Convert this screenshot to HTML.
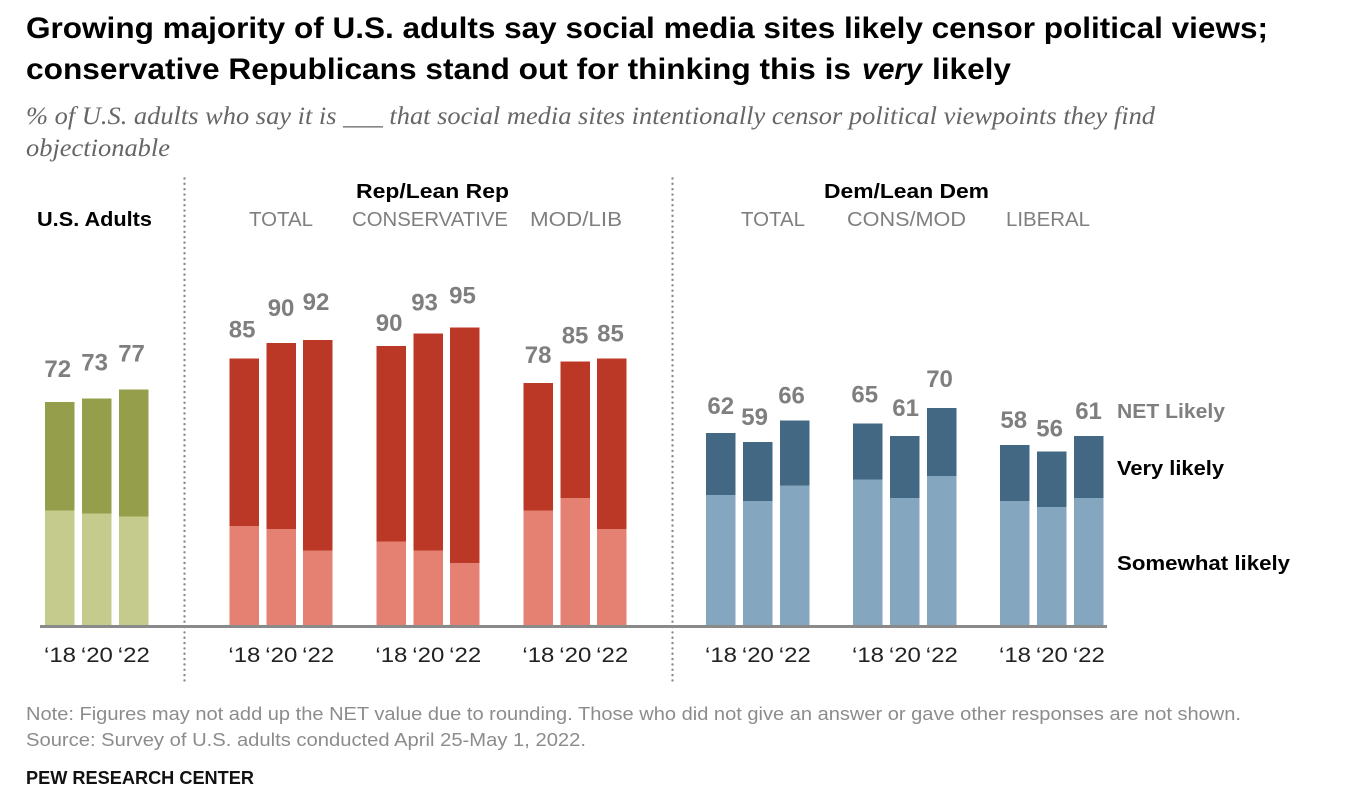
<!DOCTYPE html>
<html lang="en">
<head>
<meta charset="utf-8">
<title>Social media censorship views</title>
<style>
html,body{margin:0;padding:0;background:#fff;width:1358px;height:810px;overflow:hidden}
svg{display:block;font-family:"Liberation Sans",Arial,sans-serif}
.title{font-weight:700;font-size:30px;fill:#000}
.sub{font-family:"Liberation Serif",serif;font-style:italic;font-size:25px;fill:#666}
.head{font-weight:700;font-size:20px;fill:#000}
.subhead{font-size:20px;fill:#7f7f7f}
.legend{font-weight:700;font-size:20px;fill:#000}
.note{font-size:18px;fill:#8c8c8c}
.val{font-weight:700;font-size:24px;fill:#7f7f7f;text-anchor:middle}
.year{font-size:21px;fill:#222}
</style>
</head>
<body>
<svg id="chart" width="1358" height="810" viewBox="0 0 1358 810" xmlns="http://www.w3.org/2000/svg">
  <rect width="1358" height="810" fill="#fff"/>
  <g>
    <text class="title" x="26" y="38" textLength="1242" lengthAdjust="spacingAndGlyphs">Growing majority of U.S. adults say social media sites likely censor political views;</text>
    <text class="title" x="26" y="79" textLength="825" lengthAdjust="spacingAndGlyphs">conservative Republicans stand out for thinking this is</text>
    <text class="title" x="862" y="79" font-style="italic" textLength="60" lengthAdjust="spacingAndGlyphs">very</text>
    <text class="title" x="932" y="79" textLength="79" lengthAdjust="spacingAndGlyphs">likely</text>
  </g>
  <g>
    <text class="sub" x="26" y="124" textLength="1129" lengthAdjust="spacingAndGlyphs">% of U.S. adults who say it is ___ that social media sites intentionally censor political viewpoints they find</text>
    <text class="sub" x="26" y="156" textLength="144" lengthAdjust="spacingAndGlyphs">objectionable</text>
  </g>
  <line x1="184.5" y1="178.5" x2="184.5" y2="681" stroke="#888" stroke-width="2.4" stroke-linecap="round" stroke-dasharray="0.01 5.33"/>
  <line x1="672.5" y1="178.5" x2="672.5" y2="681" stroke="#888" stroke-width="2.4" stroke-linecap="round" stroke-dasharray="0.01 5.33"/>

  <text class="head" x="37" y="226" textLength="115" lengthAdjust="spacingAndGlyphs">U.S. Adults</text>
  <text class="head" x="356" y="198" textLength="153" lengthAdjust="spacingAndGlyphs">Rep/Lean Rep</text>
  <text class="head" x="824" y="198" textLength="165" lengthAdjust="spacingAndGlyphs">Dem/Lean Dem</text>
  <text class="subhead" x="249" y="226" textLength="64" lengthAdjust="spacingAndGlyphs">TOTAL</text>
  <text class="subhead" x="352" y="226" textLength="156" lengthAdjust="spacingAndGlyphs">CONSERVATIVE</text>
  <text class="subhead" x="530" y="226" textLength="92" lengthAdjust="spacingAndGlyphs">MOD/LIB</text>
  <text class="subhead" x="741" y="226" textLength="64" lengthAdjust="spacingAndGlyphs">TOTAL</text>
  <text class="subhead" x="847" y="226" textLength="119" lengthAdjust="spacingAndGlyphs">CONS/MOD</text>
  <text class="subhead" x="1006" y="226" textLength="84" lengthAdjust="spacingAndGlyphs">LIBERAL</text>

  <g id="marks"></g>

  <line x1="40" y1="626.5" x2="1107" y2="626.5" stroke="#8a8a8a" stroke-width="3"/>

  <text class="legend" x="1117" y="418" style="fill:#7f7f7f" textLength="108" lengthAdjust="spacingAndGlyphs">NET Likely</text>
  <text class="legend" x="1117" y="475" textLength="107" lengthAdjust="spacingAndGlyphs">Very likely</text>
  <text class="legend" x="1117" y="570" textLength="173" lengthAdjust="spacingAndGlyphs">Somewhat likely</text>

  <text class="note" x="26" y="720" textLength="1215" lengthAdjust="spacingAndGlyphs">Note: Figures may not add up the NET value due to rounding. Those who did not give an answer or gave other responses are not shown.</text>
  <text class="note" x="26" y="746" textLength="560" lengthAdjust="spacingAndGlyphs">Source: Survey of U.S. adults conducted April 25-May 1, 2022.</text>
  <text x="26" y="784" font-weight="700" font-size="18" fill="#111" textLength="228" lengthAdjust="spacingAndGlyphs">PEW RESEARCH CENTER</text>
</svg>
<script>
// ---- data (percent), one entry per group, three survey years each ----
const groups = ['us-adults','rep-total','rep-conservative','rep-modlib','dem-total','dem-consmod','dem-liberal'];
const years = ['‘18','‘20','‘22'];
const somewhat = [[37,36,35],[32,31,24],[27,24,20],[37,41,31],[42,40,45],[47,41,48],[40,38,41]];
const very = [[35,37,41],[54,60,68],[63,70,76],[41,44,55],[20,19,21],[18,20,22],[18,18,20]];
const net = [[72,73,77],[85,90,92],[90,93,95],[78,85,85],[62,59,66],[65,61,70],[58,56,61]];

// ---- layout (not data) ----
const BASE_Y = 625, PX_PER_PCT = 3.1, BAR_W = 29.5, BAR_STEP = 36.9, GROUP_STEP = 147;
const panelStart = [45, 229.4, 706];
const panelOfGroup = [0,1,1,1,2,2,2];
const groupOffset = [0,0,1,2,0,1,2];
const groupPalette = ['olive','red','red','red','blue','blue','blue'];
const palette = {
  olive:{dark:'#959e4a',light:'#c5cb8c'},
  red:{dark:'#bc3826',light:'#e48172'},
  blue:{dark:'#426883',light:'#84a6bf'}
};
// hand-placed label nudges, relative to each bar's top and centre
const labelLift = [[25,28,28],[21,27,30],[15,23,24],[20,18,17],[19,17,17],[21,20,21],[17,15,17]];
const labelNudge = [[-2,-2,-2],[-2,0,-2],[-2,-3.5,-2.5],[0,0,-1.5],[0,-3,-3],[-3,1,-2],[-1,-2,0]];

const NS = 'http://www.w3.org/2000/svg';
const root = document.getElementById('marks');
const yScale = v => BASE_Y - v * PX_PER_PCT;
const xScale = (g, t) => panelStart[panelOfGroup[g]] + groupOffset[g] * GROUP_STEP + t * BAR_STEP;

function make(tag, attrs, parent) {
  const el = document.createElementNS(NS, tag);
  for (const k in attrs) el.setAttribute(k, attrs[k]);
  parent.appendChild(el);
  return el;
}

groups.forEach((name, g) => {
  const colors = palette[groupPalette[g]];
  const grp = make('g', {}, root);
  
  
  years.forEach((yr, t) => {
    const x = xScale(g, t);
    const yS = yScale(somewhat[g][t]);
    const yV = yScale(somewhat[g][t] + very[g][t]);

    const low = make('rect', {x: x, y: yS, width: BAR_W, height: BASE_Y - yS, fill: colors.light, 'shape-rendering': 'crispEdges'}, grp);
    
    

    const high = make('rect', {x: x, y: yV, width: BAR_W, height: yS - yV, fill: colors.dark, 'shape-rendering': 'crispEdges'}, grp);
    
    

    const lab = make('text', {class: 'val', x: x + BAR_W / 2 + labelNudge[g][t], y: yV - labelLift[g][t]}, grp);
    lab.textContent = net[g][t];
    
    

    const tick = make('text', {class: 'year', x: x - 1, y: 662, textLength: 32, lengthAdjust: 'spacingAndGlyphs'}, grp);
    tick.textContent = yr;
    
    
  });
});
</script>
</body>
</html>
